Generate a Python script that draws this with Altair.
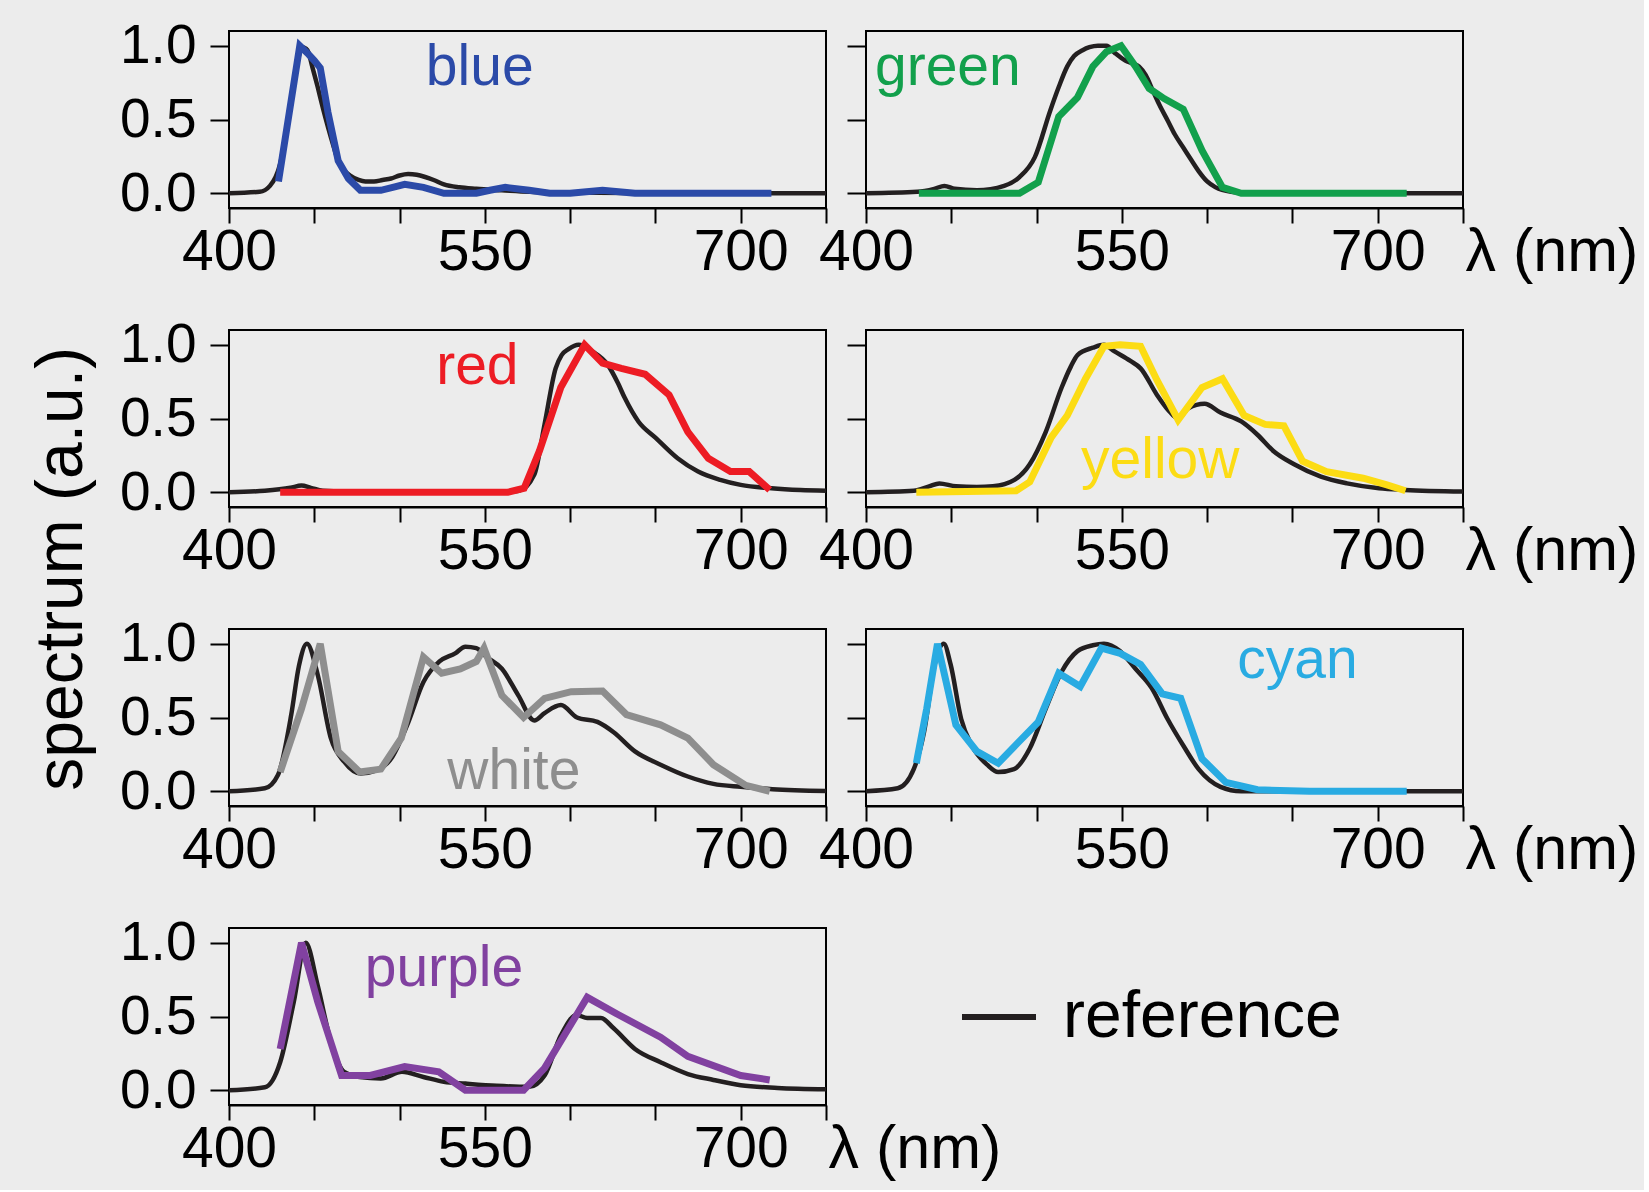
import altair as alt
import pandas as pd

FONT = "Liberation Sans"
BG = "#ececec"
REF_COLOR = "#231f20"
W, H = 597, 177

X_TICKS = [400, 450, 500, 550, 600, 650, 700, 750]
Y_TICKS = [0.0, 0.5, 1.0]

# ---------------- data ----------------
blue_ref_x = [400, 418, 424, 430, 436, 440, 443, 446, 449, 452, 455, 458, 461, 464, 467, 471, 476, 480, 485, 490,
              495, 500, 505, 510, 515, 520, 526, 535, 545, 560, 576, 600, 650, 700, 750]
blue_ref_y = [0, 0.01, 0.05, 0.2, 0.6, 0.88, 0.99, 0.97, 0.85, 0.72, 0.58, 0.45, 0.33, 0.22, 0.16, 0.12, 0.09, 0.08,
              0.08, 0.09, 0.1, 0.12, 0.13, 0.125, 0.11, 0.09, 0.06, 0.04, 0.03, 0.02, 0.01, 0.005, 0, 0, 0]
blue_x = [429, 441.5, 446, 450, 453.5, 458, 464, 470, 477, 489, 496, 503, 514, 526, 545, 553, 562, 576, 588, 600,
          619, 638, 660, 680, 700, 718]
blue_y = [0.08, 1.0, 0.95, 0.9, 0.85, 0.55, 0.22, 0.1, 0.02, 0.02, 0.04, 0.06, 0.04, 0.0, 0.0, 0.02, 0.04, 0.02,
          0.0, 0.0, 0.02, 0.0, 0.0, 0.0, 0.0, 0.0]

green_ref_x = [400, 430, 440, 446, 452, 465, 481, 490, 499, 508, 513, 518, 522, 527, 531, 536, 541, 546, 552, 556,
               560, 564, 568, 572, 577, 581, 586, 591, 595, 600, 605, 614, 625, 650, 700, 750]
green_ref_y = [0, 0.01, 0.03, 0.05, 0.03, 0.02, 0.05, 0.11, 0.245, 0.56, 0.72, 0.86, 0.93, 0.97, 0.99, 1.0, 1.0,
               0.95, 0.9, 0.88, 0.86, 0.8, 0.7, 0.6, 0.49, 0.4, 0.31, 0.22, 0.15, 0.08, 0.04, 0.01, 0.0, 0, 0, 0]
green_x = [431, 490, 501, 513, 524, 533, 541, 549.5, 558, 566, 575, 586, 597, 609, 620, 650, 680, 717]
green_y = [0, 0, 0.075, 0.52, 0.65, 0.86, 0.96, 1.0, 0.86, 0.71, 0.64, 0.57, 0.29, 0.04, 0.0, 0.0, 0.0, 0.0]

red_ref_x = [400, 421, 436, 442.5, 448, 455, 480, 520, 560, 570, 579, 585, 591.5, 595, 599, 605, 613, 622, 628,
             632, 640, 650, 663, 675, 688, 700, 718, 735, 750]
red_ref_y = [0, 0.01, 0.03, 0.045, 0.03, 0.01, 0.0, 0.0, 0.0, 0.01, 0.12, 0.46, 0.84, 0.93, 0.97, 1.0, 0.955,
             0.865, 0.74, 0.64, 0.48, 0.37, 0.23, 0.14, 0.084, 0.05, 0.027, 0.015, 0.01]
red_x = [430, 500, 563.5, 573, 582, 594.5, 608.5, 619, 630, 644, 658, 669, 681, 694, 705, 717]
red_y = [0, 0, 0, 0.027, 0.28, 0.71, 1.0, 0.875, 0.84, 0.8, 0.66, 0.41, 0.23, 0.14, 0.14, 0.016]

yellow_ref_x = [400, 428, 437, 443, 452.7, 465, 474.4, 487, 496, 505.4, 514.7, 520, 524, 533, 539.5, 545.7, 555,
                561, 570.6, 577, 583, 589, 598.5, 607.8, 620, 629.5, 638.8, 651, 666.7, 682, 700.8, 716, 750]
yellow_ref_y = [0, 0.01, 0.04, 0.06, 0.04, 0.035, 0.04, 0.084, 0.19, 0.41, 0.71, 0.85, 0.93, 0.98, 1.0, 0.955,
                0.89, 0.84, 0.66, 0.56, 0.5, 0.57, 0.6, 0.54, 0.48, 0.39, 0.28, 0.19, 0.106, 0.06, 0.027, 0.016,
                0.005]
yellow_x = [429.5, 488, 496, 508.5, 518, 528.7, 539.5, 549, 561, 570.6, 583, 597, 609, 621.7, 634, 645, 656, 670,
            691.5, 705.4, 716.3]
yellow_y = [0, 0.01, 0.07, 0.37, 0.52, 0.77, 0.99, 1.0, 0.99, 0.76, 0.49, 0.71, 0.77, 0.52, 0.46, 0.45, 0.21,
            0.14, 0.095, 0.05, 0.01]

white_ref_x = [400, 421, 428.7, 436.5, 441, 445.7, 452, 459.7, 467.5, 477, 486, 495, 504.5, 514, 523.4, 532.6,
               538.6, 545, 551, 560, 569.6, 579, 585, 594.6, 604, 616, 625.5, 638, 653, 669, 684, 700, 718.6, 750]
white_ref_y = [0, 0.02, 0.11, 0.52, 0.85, 1.0, 0.79, 0.36, 0.2, 0.12, 0.14, 0.22, 0.45, 0.74, 0.88, 0.935, 0.98,
               0.97, 0.91, 0.83, 0.65, 0.48, 0.53, 0.584, 0.5, 0.47, 0.40, 0.27, 0.18, 0.10, 0.05, 0.03, 0.014,
               0.002]
white_x = [430, 442.5, 453.5, 464, 476.6, 489, 501, 514, 524.7, 535.6, 545, 549.5, 560, 572.7, 585, 600.6, 619,
           633, 653, 669, 684, 703, 717]
white_y = [0.13, 0.56, 1.0, 0.27, 0.13, 0.15, 0.36, 0.91, 0.8, 0.83, 0.88, 0.97, 0.65, 0.5, 0.63, 0.675, 0.68,
           0.52, 0.45, 0.36, 0.18, 0.04, 0.0]

cyan_ref_x = [400, 418.6, 428, 434, 440.3, 445.6, 449.6, 455.8, 462, 471, 477.5, 486.8, 496, 505.4, 514.7, 524,
              533, 539.5, 548.9, 558, 567.5, 576.8, 586, 595, 607.8, 620, 650, 700, 750]
cyan_ref_y = [0, 0.02, 0.15, 0.4, 0.86, 1.0, 0.86, 0.49, 0.31, 0.18, 0.13, 0.15, 0.29, 0.56, 0.81, 0.95, 0.99,
              1.0, 0.95, 0.83, 0.70, 0.49, 0.31, 0.15, 0.03, 0.0, 0, 0, 0]
cyan_x = [429.5, 435.6, 441.9, 452.7, 465, 477.5, 490, 501, 513, 525.6, 538, 549, 561, 573.7, 584.5, 597, 611,
          629.5, 660, 690, 717]
cyan_y = [0.19, 0.56, 1.0, 0.45, 0.27, 0.19, 0.34, 0.47, 0.8, 0.71, 0.97, 0.935, 0.86, 0.66, 0.63, 0.22, 0.06,
          0.01, 0.0, 0.0, 0.0]

purple_ref_x = [400, 421, 430, 438, 445, 452, 459.7, 467.5, 476.6, 489, 501.4, 514, 526, 538.6, 557, 576, 585,
                594.5, 603.8, 610, 618, 625.5, 638, 653, 669, 684, 700, 721.6, 750]
purple_ref_y = [0, 0.02, 0.19, 0.6, 1.0, 0.71, 0.33, 0.125, 0.09, 0.08, 0.125, 0.09, 0.057, 0.045, 0.03, 0.023,
                0.10, 0.37, 0.51, 0.49, 0.49, 0.42, 0.28, 0.19, 0.11, 0.07, 0.034, 0.016, 0.007]
purple_x = [430, 442.5, 452, 466, 482.8, 503, 523, 538.6, 572.7, 585, 610, 628.6, 653, 669, 700, 717]
purple_y = [0.28, 1.0, 0.6, 0.10, 0.10, 0.16, 0.125, 0.0, 0.0, 0.15, 0.63, 0.51, 0.36, 0.23, 0.10, 0.07]

# panel label text and its anchor (nm, a.u.)
labels = ["blue", "green", "red", "yellow", "white", "cyan", "purple"]
label_colors = ["#2b4aa8", "#12a04c", "#ed1c24", "#fcdc14", "#8e8e8e", "#29abe2", "#8141a0"]
label_x = [547, 448, 545.6, 572.5, 567, 653, 526]
label_y = [0.85, 0.85, 0.85, 0.21, 0.13, 0.88, 0.82]


def make_panel(i, rx, ry, mx, my, ylabels, xtitle, legend=False):
    name, color = labels[i], label_colors[i]
    ref = pd.DataFrame({"wl": rx, "v": ry, "series": ["reference"] * len(rx)})
    meas = pd.DataFrame({"wl": mx, "v": my})
    txt = pd.DataFrame({"wl": [label_x[i]], "v": [label_y[i]], "t": [name]})

    xkw = dict(values=X_TICKS, labelExpr="datum.value % 150 == 100 ? datum.label : ''",
               tickSize=15, tickWidth=2, tickColor="black", domainColor="black", domainWidth=2,
               labelFont=FONT, labelFontSize=57, labelColor="black", labelPadding=1,
               labelFlush=False, labelOverlap=False, labelBound=False, grid=False)
    if xtitle:
        xkw.update(title="λ (nm)", titleFont=FONT, titleFontSize=61, titleFontWeight="normal",
                   titleColor="black", titleX=W + 2, titleY=14, titleAlign="left",
                   titleBaseline="top", titleAngle=0)
    else:
        xkw["title"] = None
    x = alt.X("wl:Q", scale=alt.Scale(domain=[400, 750], nice=False, zero=False), axis=alt.Axis(**xkw))

    ykw = dict(values=Y_TICKS, format=".1f", tickSize=19, tickWidth=2, tickColor="black",
               domain=False, grid=False, title=None, labels=ylabels)
    if ylabels:
        ykw.update(labelFont=FONT, labelFontSize=55, labelColor="black", labelPadding=14)
    y = alt.Y("v:Q", scale=alt.Scale(domain=[-0.1, 1.1], nice=False, zero=False), axis=alt.Axis(**ykw))

    if legend:
        ref_line = alt.Chart(ref).mark_line(strokeWidth=4.5, interpolate="monotone").encode(
            x=x, y=y,
            color=alt.Color("series:N", scale=alt.Scale(domain=["reference"], range=[REF_COLOR]),
                            legend=alt.Legend(orient="none", legendX=730, legendY=946, title=None,
                                              symbolType="stroke", symbolStrokeWidth=6, symbolSize=5476,
                                              labelFont=FONT, labelFontSize=66, labelColor="black",
                                              labelOffset=24, labelLimit=500, padding=0)))
    else:
        ref_line = alt.Chart(ref).mark_line(strokeWidth=4.5, color=REF_COLOR,
                                            interpolate="monotone").encode(x=x, y=y)
    meas_line = alt.Chart(meas).mark_line(strokeWidth=7, color=color).encode(x=x, y=y)
    text = alt.Chart(txt).mark_text(font=FONT, fontSize=57, color=color, align="center",
                                    baseline="middle").encode(x=x, y=y, text="t:N")
    return alt.layer(ref_line, meas_line, text).properties(width=W, height=H)


p_blue = make_panel(0, blue_ref_x, blue_ref_y, blue_x, blue_y, True, False)
p_green = make_panel(1, green_ref_x, green_ref_y, green_x, green_y, False, True)
p_red = make_panel(2, red_ref_x, red_ref_y, red_x, red_y, True, False)
p_yellow = make_panel(3, yellow_ref_x, yellow_ref_y, yellow_x, yellow_y, False, True)
p_white = make_panel(4, white_ref_x, white_ref_y, white_x, white_y, True, False)
p_cyan = make_panel(5, cyan_ref_x, cyan_ref_y, cyan_x, cyan_y, False, True)
p_purple = make_panel(6, purple_ref_x, purple_ref_y, purple_x, purple_y, True, True, legend=True)

chart = alt.concat(
    p_blue, p_green, p_red, p_yellow, p_white, p_cyan, p_purple,
    columns=2, spacing={"row": 122, "column": 40}, bounds="flush",
).properties(
    title=alt.TitleParams(text="spectrum (a.u.)", orient="left", anchor="middle", fontSize=66,
                          font=FONT, fontWeight="normal", color="black", offset=23, dx=30)
).configure(
    background=BG, padding={"left": 28, "top": 17, "right": 5, "bottom": 10}
).configure_view(stroke="black", strokeWidth=2)

chart.save("out.html", embed_options={"renderer": "svg", "actions": False})
